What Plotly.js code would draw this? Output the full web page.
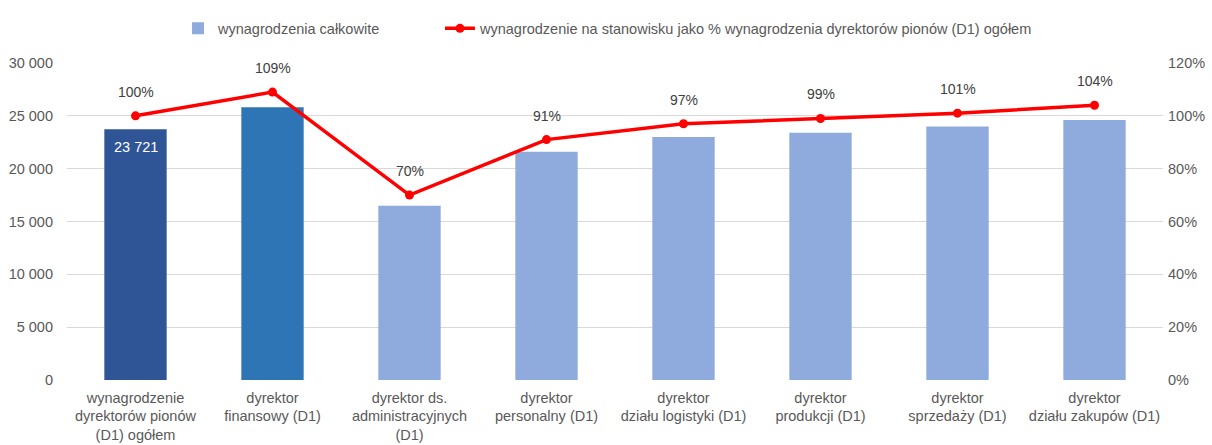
<!DOCTYPE html>
<html><head><meta charset="utf-8">
<script src="https://cdn.plot.ly/plotly-3.0.1.min.js"></script>
<style>html,body{margin:0;padding:0;background:#fff}#chart{width:1212px;height:445px}</style>
</head><body><div id="chart"></div>
<script>
const categories = [
  "wynagrodzenie<br>dyrektorów pionów<br>(D1) ogółem",
  "dyrektor<br>finansowy (D1)",
  "dyrektor ds.<br>administracyjnych<br>(D1)",
  "dyrektor<br>personalny (D1)",
  "dyrektor<br>działu logistyki (D1)",
  "dyrektor<br>produkcji (D1)",
  "dyrektor<br>sprzedaży (D1)",
  "dyrektor<br>działu zakupów (D1)"
];
const salaries = [23721, 25810, 16500, 21600, 23000, 23400, 24000, 24600];
const percents = [1.00, 1.09, 0.70, 0.91, 0.97, 0.99, 1.01, 1.04];
const barColors = ["#2F5597", "#2E75B6", "#8FAADC", "#8FAADC", "#8FAADC", "#8FAADC", "#8FAADC", "#8FAADC"];
const barLabels = ["23 721", "", "", "", "", "", "", ""];
const seriesNames = ["wynagrodzenia całkowite", "wynagrodzenie na stanowisku jako % wynagrodzenia dyrektorów pionów (D1) ogółem"];

const FONT = "Liberation Sans, Arial, sans-serif";
const TXT = '#595959';
const traces = [
  {type:'bar', x:categories, y:salaries, marker:{color:barColors}, showlegend:false, width:0.455},
  {type:'bar', x:[categories[0]], y:[null], name:seriesNames[0], marker:{color:'#8FAADC'}, showlegend:true, legend:'legend'},
  {type:'scatter', mode:'lines+markers', x:categories, y:percents, yaxis:'y2', name:seriesNames[1],
   line:{color:'#FF0000', width:3.5}, marker:{color:'#FF0000', size:9}, legend:'legend2'}
];
const annotations = percents.map((p,i)=>({
  x:categories[i], y:p, xref:'x', yref:'y2', text:Math.round(p*100)+'%', showarrow:false,
  yshift:24, font:{size:14, color:'#404040', family:FONT}
}));
barLabels.forEach((t,i)=>{ if(t) annotations.push({
  x:categories[i], y:salaries[i], xref:'x', yref:'y', text:t, showarrow:false,
  yshift:-18, font:{size:14.5, color:'#FFFFFF', family:FONT}
});});
const legendBase = {orientation:'h', xanchor:'left', yanchor:'middle', y:1.109,
  font:{size:14.5, color:TXT, family:FONT}, bgcolor:'rgba(0,0,0,0)'};
const layout = {
  width:1212, height:445, margin:{l:67, r:49, t:58, b:65},
  paper_bgcolor:'#fff', plot_bgcolor:'#fff', separators:', ', barmode:'overlay',
  font:{family:FONT, size:14.5, color:TXT},
  legend:Object.assign({}, legendBase, {x:0.1013}),
  legend2:Object.assign({}, legendBase, {x:0.3403}),
  xaxis:{type:'category', showline:false, ticks:'', tickfont:{size:14.5, color:TXT}, ticklabelstandoff:7},
  yaxis:{range:[0,30000], dtick:5000, tickformat:',d', gridcolor:'#D9D9D9', zeroline:false, ticks:'',
         tickfont:{size:14.5, color:TXT}, ticklabelstandoff:13},
  yaxis2:{range:[0,1.2], dtick:0.2, tickformat:'.0%', overlaying:'y', side:'right', showgrid:false, zeroline:false,
          tickfont:{size:14.5, color:TXT}, ticklabelstandoff:4},
  annotations:annotations, hovermode:false
};
Plotly.newPlot('chart', traces, layout, {displayModeBar:false, staticPlot:true});
</script></body></html>
